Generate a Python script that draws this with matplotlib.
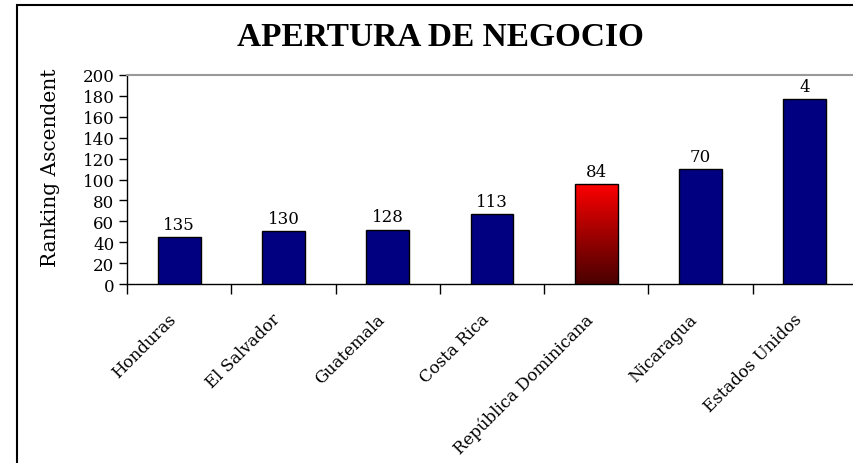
import matplotlib
matplotlib.use("Agg")
import matplotlib.pyplot as plt
import matplotlib.transforms as mtransforms
import numpy as np
from matplotlib.patches import Rectangle
from matplotlib.colors import LinearSegmentedColormap

categories = ["Honduras", "El Salvador", "Guatemala", "Costa Rica",
              "República Dominicana", "Nicaragua", "Estados Unidos"]
values = [45, 51, 52, 67, 96, 110, 177]
labels = ["135", "130", "128", "113", "84", "70", "4"]
highlight = "República Dominicana"
yticks = list(range(0, 201, 20))

W, H = 854, 464
fig = plt.figure(figsize=(W / 100, H / 100), dpi=100)
fig.patch.set_facecolor("white")

ax = fig.add_axes([127 / W, 1 - 285 / H, (857 - 127) / W, (285 - 76) / H])

serif = "DejaVu Serif"
x = np.arange(len(categories))
bars = ax.bar(x, values, width=0.41, color="#000080", edgecolor="black",
              linewidth=1.0, zorder=3)

ax.set_xlim(-0.5, len(categories) - 0.5)
ax.set_ylim(0, 200)

# gradient for highlighted bar
cmap = LinearSegmentedColormap.from_list("rd", ["#4a0000", "#a00000", "#ff0000"])
for b, cat in zip(bars, categories):
    if cat == highlight:
        bx, by = b.get_x(), b.get_y()
        bw, bh = b.get_width(), b.get_height()
        grad = np.linspace(0, 1, 256).reshape(-1, 1)
        im = ax.imshow(grad, extent=[bx, bx + bw, by, by + bh], origin="lower",
                       cmap=cmap, aspect="auto", zorder=3.5)
        im.set_clip_path(b)
        b.set_facecolor("none")
        b.set_zorder(4)
ax.set_aspect("auto")
ax.set_xlim(-0.5, len(categories) - 0.5)
ax.set_ylim(0, 200)

for xi, v, lab in zip(x, values, labels):
    ax.annotate(lab, (xi, v), xytext=(0, 3), textcoords="offset points",
                ha="center", va="bottom", fontsize=12, family=serif, zorder=5)

ax.set_yticks(yticks)
ax.set_yticklabels([str(t) for t in yticks], family=serif, fontsize=12)
ax.tick_params(axis="y", direction="out", length=6, width=1, pad=3)

ax.set_xticks(x)
ax.set_xticklabels(categories, rotation=45, ha="right", va="top",
                   rotation_mode="anchor", family=serif, fontsize=12)
ax.tick_params(axis="x", which="major", length=0, pad=16)
offset = mtransforms.ScaledTranslation(-12 / 100, -4 / 100, fig.dpi_scale_trans)
for lbl in ax.get_xticklabels():
    lbl.set_transform(lbl.get_transform() + offset)
ax.set_xticks(np.arange(-0.5, len(categories) + 0.5, 1), minor=True)
ax.tick_params(axis="x", which="minor", direction="out", length=7, width=1)

ax.spines["left"].set_color("black")
ax.spines["bottom"].set_color("black")
ax.spines["left"].set_linewidth(1)
ax.spines["bottom"].set_linewidth(1)
ax.spines["top"].set_color("#999999")
ax.spines["top"].set_linewidth(1.5)
ax.spines["right"].set_visible(False)

ax.set_ylabel("Ranking Ascendent", family=serif, fontsize=14.5)
ax.yaxis.set_label_coords((60 - 127) / 730, (285 - 168) / 209)

fig.text(440 / W, 1 - 37 / H, "APERTURA DE NEGOCIO", ha="center", va="center",
         family="Liberation Serif", fontweight="bold", fontsize=24)

frame = Rectangle((17 / W, -0.1), 1.2, (1 - 6 / H) + 0.1, transform=fig.transFigure,
                  fill=False, edgecolor="black", linewidth=1.5, clip_on=False)
fig.patches.append(frame)

fig.savefig("out.png", dpi=100)
